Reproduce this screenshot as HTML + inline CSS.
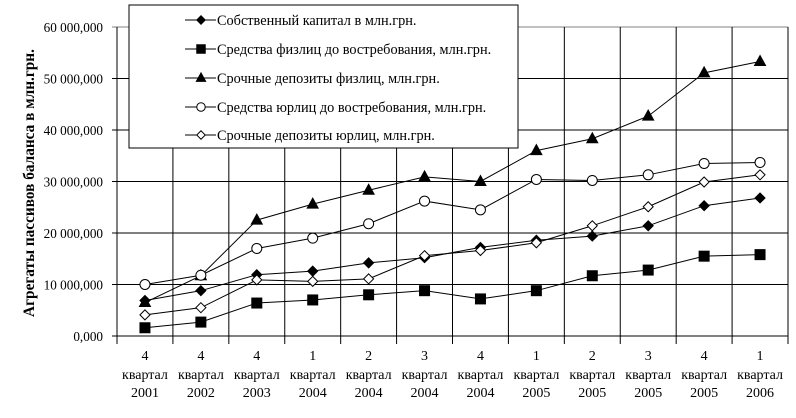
<!DOCTYPE html>
<html><head><meta charset="utf-8"><style>
html,body{margin:0;padding:0;background:#fff}
svg{display:block;font-family:"Liberation Serif",serif}
</style></head><body>
<svg id="s" width="796" height="418" xmlns="http://www.w3.org/2000/svg">
<rect width="796" height="418" fill="#fff"/>
<g id="grid"></g>
<g id="series"></g>
<text transform="translate(34,183) rotate(-90)" text-anchor="middle" font-size="15.3" font-weight="bold">Агрегаты пассивов баланса в млн.грн.</text>
<rect x="129" y="5" width="389" height="143" fill="#fff" stroke="#000" stroke-width="1"/>
<g id="legend" font-size="14.3"></g>
</svg>
<script>
const NS="http://www.w3.org/2000/svg";
function el(p,t,a,txt){const e=document.createElementNS(NS,t);for(const k in a)e.setAttribute(k,a[k]);if(txt!=null)e.textContent=txt;p.appendChild(e);return e;}
const L=117,R=788,T=27,B=336,n=12,cw=(R-L)/n;
const g=document.getElementById('grid');
const yl=["0,000","10 000,000","20 000,000","30 000,000","40 000,000","50 000,000","60 000,000"];
for(let i=0;i<=6;i++){const y=B-i*(B-T)/6;
 el(g,'line',{x1:L-5,x2:R,y1:y,y2:y,stroke:i==6?'#808080':'#000','stroke-width':1});
 el(g,'text',{x:103,y:y+5,'text-anchor':'end','font-size':13.2},yl[i]);}
for(let i=0;i<=n;i++){const x=L+i*cw;el(g,'line',{x1:x,x2:x,y1:T,y2:B+8,stroke:'#000','stroke-width':1});}
const q=["4","4","4","1","2","3","4","1","2","3","4","1"],yr=["2001","2002","2003","2004","2004","2004","2004","2005","2005","2005","2005","2006"];
for(let i=0;i<n;i++){const x=L+(i+.5)*cw;
 el(g,'text',{x:x,y:360,'text-anchor':'middle','font-size':14},q[i]);
 el(g,'text',{x:x,y:379,'text-anchor':'middle','font-size':14},'квартал');
 el(g,'text',{x:x,y:397,'text-anchor':'middle','font-size':14},yr[i]);}
const data=[
 ['dia',1,[6.9,8.8,11.9,12.6,14.2,15.2,17.2,18.6,19.4,21.4,25.3,26.8],'Собственный капитал в млн.грн.'],
 ['sq',1,[1.6,2.7,6.4,7.0,8.0,8.8,7.2,8.8,11.7,12.8,15.5,15.8],'Средства физлиц до востребования, млн.грн.'],
 ['tri',1,[6.5,11.7,22.5,25.6,28.3,30.9,30.0,36.0,38.3,42.7,51.1,53.3],'Срочные депозиты физлиц, млн.грн.'],
 ['cir',0,[10.0,11.8,17.0,19.0,21.8,26.2,24.5,30.4,30.2,31.3,33.5,33.7],'Средства юрлиц до востребования, млн.грн.'],
 ['dia',0,[4.1,5.5,10.9,10.6,11.1,15.6,16.6,18.1,21.4,25.1,29.9,31.3],'Срочные депозиты юрлиц, млн.грн.']];
function mk(p,type,fill,x,y,s){s=s||1;const f=fill?'#000':'#fff',a={fill:f,stroke:'#000','stroke-width':1};
 if(type=='dia')el(p,'polygon',Object.assign({points:`${x},${y-5*s} ${x+5*s},${y} ${x},${y+5*s} ${x-5*s},${y}`},a));
 if(type=='sq')el(p,'rect',Object.assign({x:x-5*s,y:y-5*s,width:10*s,height:10*s},a));
 if(type=='tri')el(p,'polygon',Object.assign({points:`${x},${y-6*s} ${x+5.5*s},${y+4*s} ${x-5.5*s},${y+4*s}`},a));
 if(type=='cir')el(p,'circle',Object.assign({cx:x,cy:y,r:5*s},a));}
const s=document.getElementById('series'),lg=document.getElementById('legend');
const LY=[20,49,78,107,135];
data.forEach((d,k)=>{const pts=d[2].map((v,i)=>[L+(i+.5)*cw,B-v*(B-T)/60]);
 el(s,'polyline',{points:pts.map(p=>p.join(',')).join(' '),fill:'none',stroke:'#000','stroke-width':1});
 pts.forEach(p=>mk(s,d[0],d[1],p[0],p[1]));
 const ly=LY[k];
 el(lg,'line',{x1:185,x2:216,y1:ly,y2:ly,stroke:'#000'});
 mk(lg,d[0],d[1],201,ly,0.85);
 el(lg,'text',{x:217,y:ly+5},d[3]);});
</script>
</body></html>
